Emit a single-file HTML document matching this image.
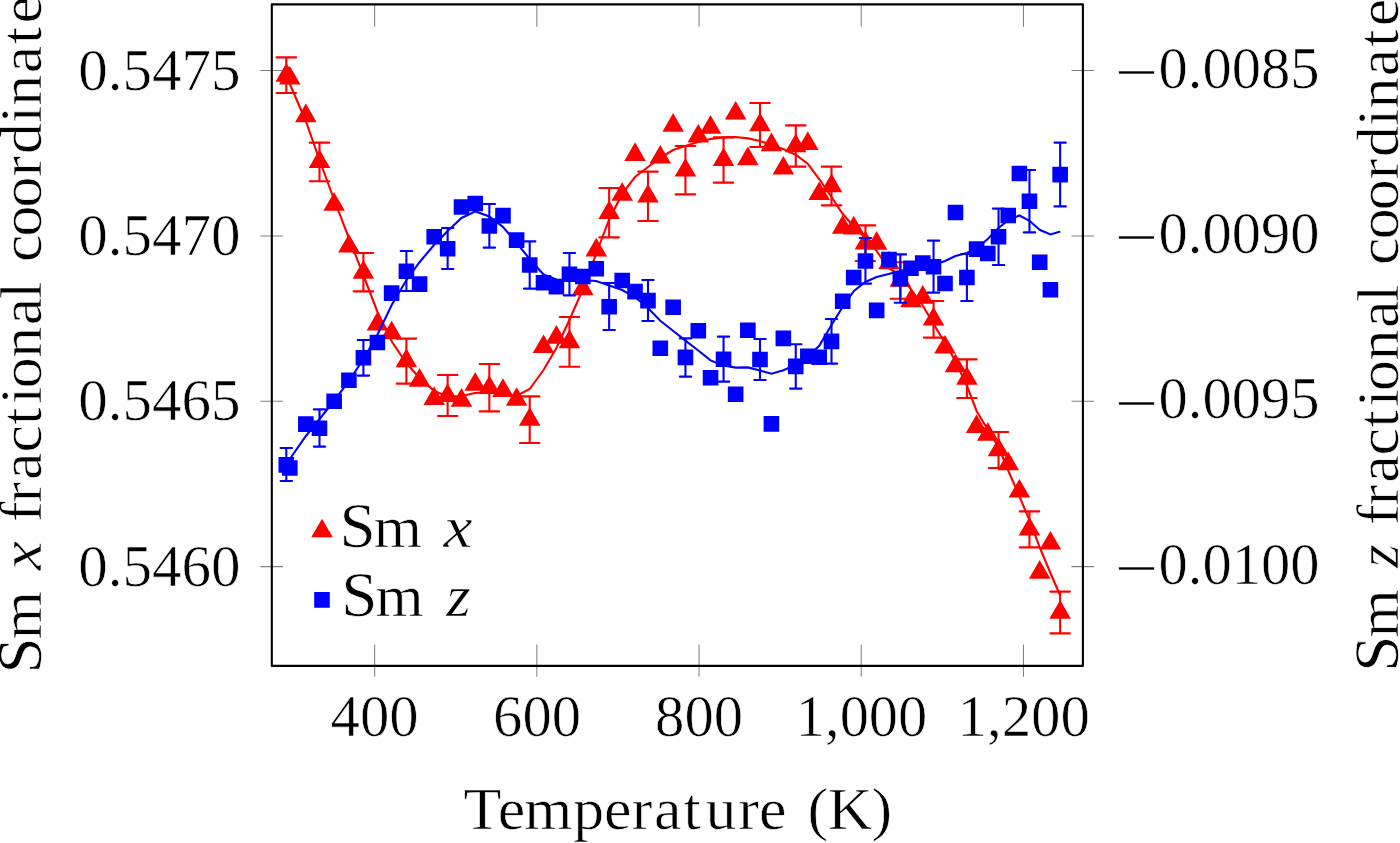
<!DOCTYPE html>
<html lang="en"><head><meta charset="utf-8"><title>Sm fractional coordinates vs temperature</title>
<style>
html,body{margin:0;padding:0;background:#fff;}
body{width:1400px;height:843px;overflow:hidden;}
svg{display:block;}
text{font-family:"Liberation Serif",serif;fill:#000;stroke:#fff;stroke-width:0.6px;}
.it{font-style:italic;}
</style></head><body>
<svg width="1400" height="843" viewBox="0 0 1400 843">
<rect width="1400" height="843" fill="#fff"/>
<path d="M374.64 4.4V26.8M374.64 644.5V676.8M536.84 4.4V26.8M536.84 644.5V676.8M699.05 4.4V26.8M699.05 644.5V676.8M861.25 4.4V26.8M861.25 644.5V676.8M1023.45 4.4V26.8M1023.45 644.5V676.8M260.4 70.57H283M1071.5 70.57H1094M260.4 235.92H283M1071.5 235.92H1094M260.4 401.28H283M1071.5 401.28H1094M260.4 566.63H283M1071.5 566.63H1094" fill="none" stroke="#808080" stroke-width="1.05"/>
<g stroke="#f00" fill="none">
<path d="M286.4 76L305.8 121L319.5 160L334.2 200L348.9 238L363.3 275L377.5 312L391.5 341L406.3 363L419.5 378L434.3 391L447.6 396.5L461.5 396L475 393L489.4 392L503 395L516.5 396L529.7 389L543.5 370L556.4 348L569.4 320L583 289L596.4 253L609 220L622 194L635 177L648 167L660 158L673 150L685.4 146L698 142L710.6 139L723.6 137.4L735.6 137L748 138.4L760 141L771.2 145L783.2 149L796 155L808 164L819.2 179L831.5 197L842.8 214L853.4 226L865.4 238L876.6 251L888.4 268L900 275L910 288L923 306L933.6 324L945 343L955.4 361L967 386L976.6 411L988 430L998.6 447L1008 470L1019.2 496L1029.4 520L1040 548L1050 572L1060 595" stroke-width="2.1" stroke-linejoin="miter" stroke-linecap="round"/>
<path d="M286.3 57.4V93M276.55 57.4h19.5M276.55 93h19.5M319.5 142.6V181.2M309.75 142.6h19.5M309.75 181.2h19.5M363.4 253V291.4M353.65 253h19.5M353.65 291.4h19.5M406.4 338.6V383.6M396.65 338.6h19.5M396.65 383.6h19.5M447.65 375V416M437.9 375h19.5M437.9 416h19.5M489.35 364V411.4M479.6 364h19.5M479.6 411.4h19.5M529.7 396.4V443M519.95 396.4h19.5M519.95 443h19.5M569.45 317V366.8M559.7 317h19.5M559.7 366.8h19.5M609.15 188V237.4M599.4 188h19.5M599.4 237.4h19.5M648 171.6V221M638.25 171.6h19.5M638.25 221h19.5M685.45 146V194.4M675.7 146h19.5M675.7 194.4h19.5M723.55 137.4V182.6M713.8 137.4h19.5M713.8 182.6h19.5M760 103V147M750.25 103h19.5M750.25 147h19.5M795.75 125.4V166.6M786 125.4h19.5M786 166.6h19.5M831.5 166.6V205.4M821.75 166.6h19.5M821.75 205.4h19.5M865.45 225.4V261M855.7 225.4h19.5M855.7 261h19.5M900.35 262.2V298.8M890.6 262.2h19.5M890.6 298.8h19.5M933.55 301V337.6M923.8 301h19.5M923.8 337.6h19.5M966.9 359.4V398M957.15 359.4h19.5M957.15 398h19.5M998.55 432V468M988.8 432h19.5M988.8 468h19.5M1029.45 511.4V547.4M1019.7 511.4h19.5M1019.7 547.4h19.5M1060.15 591.6V633.4M1050.4 591.6h19.5M1050.4 633.4h19.5" stroke-width="2.1" stroke-linecap="round"/>
<path d="M286.3 65.1L295.26 80.62L277.34 80.62ZM289.8 68L298.76 83.53L280.84 83.53ZM305.85 105.6L314.81 121.12L296.89 121.12ZM319.5 151.4L328.46 166.93L310.54 166.93ZM334.15 194.2L343.11 209.73L325.19 209.73ZM348.9 236L357.86 251.53L339.94 251.53ZM363.4 262.1L372.36 277.62L354.44 277.62ZM377.4 313.9L386.36 329.43L368.44 329.43ZM391.6 322.8L400.56 338.32L382.64 338.32ZM406.4 350.6L415.36 366.12L397.44 366.12ZM419.6 370.2L428.56 385.72L410.64 385.72ZM434.2 388.4L443.16 403.93L425.24 403.93ZM447.65 385.4L456.61 400.93L438.69 400.93ZM461.5 390.2L470.46 405.72L452.54 405.72ZM475.25 374.2L484.21 389.72L466.29 389.72ZM489.35 377.5L498.31 393.02L480.39 393.02ZM503 380.4L511.96 395.93L494.04 395.93ZM516.6 389.3L525.56 404.82L507.64 404.82ZM529.7 409.3L538.66 424.82L520.74 424.82ZM543.5 336.5L552.46 352.02L534.54 352.02ZM556.4 327.1L565.36 342.62L547.44 342.62ZM569.45 331.6L578.41 347.12L560.49 347.12ZM582.8 278.6L591.76 294.12L573.84 294.12ZM596.25 239.8L605.21 255.33L587.29 255.33ZM609.15 202.3L618.11 217.83L600.19 217.83ZM622.2 184.2L631.16 199.73L613.24 199.73ZM635.05 144.3L644.01 159.83L626.09 159.83ZM648 186L656.96 201.53L639.04 201.53ZM660.3 147L669.26 162.53L651.34 162.53ZM673.15 115.2L682.11 130.73L664.19 130.73ZM685.45 160L694.41 175.53L676.49 175.53ZM698.3 126L707.26 141.53L689.34 141.53ZM710.55 117.2L719.51 132.73L701.59 132.73ZM723.55 149.5L732.51 165.03L714.59 165.03ZM735.65 103L744.61 118.53L726.69 118.53ZM747.85 148.6L756.81 164.13L738.89 164.13ZM760 114.7L768.96 130.23L751.04 130.23ZM771.4 134.6L780.36 150.13L762.44 150.13ZM783.35 158L792.31 173.53L774.39 173.53ZM795.75 135.7L804.71 151.23L786.79 151.23ZM807.85 133.4L816.81 148.93L798.89 148.93ZM819.2 183.5L828.16 199.03L810.24 199.03ZM831.5 175.6L840.46 191.13L822.54 191.13ZM842.7 217.2L851.66 232.73L833.74 232.73ZM853.7 217.8L862.66 233.33L844.74 233.33ZM865.45 232.8L874.41 248.33L856.49 248.33ZM876.65 233.2L885.61 248.73L867.69 248.73ZM888.95 252.8L897.91 268.32L879.99 268.32ZM900.35 270.1L909.31 285.62L891.39 285.62ZM910.95 290.6L919.91 306.12L901.99 306.12ZM922.75 287.1L931.71 302.62L913.79 302.62ZM933.55 308.9L942.51 324.43L924.59 324.43ZM945 337L953.96 352.52L936.04 352.52ZM955.5 355.6L964.46 371.12L946.54 371.12ZM966.9 368.3L975.86 383.82L957.94 383.82ZM976.6 416.4L985.56 431.93L967.64 431.93ZM987.8 424.2L996.76 439.72L978.84 439.72ZM998.55 439.7L1007.51 455.22L989.59 455.22ZM1008.25 453.6L1017.21 469.12L999.29 469.12ZM1019.4 481L1028.36 496.52L1010.44 496.52ZM1029.45 518.9L1038.41 534.42L1020.49 534.42ZM1039.7 562.2L1048.66 577.72L1030.74 577.72ZM1050.4 533L1059.36 548.52L1041.44 548.52ZM1060.15 602.1L1069.11 617.62L1051.19 617.62Z" fill="#f00" stroke-width="2.1"/>
</g>
<g stroke="#00f" fill="none">
<path d="M286.4 464L305.9 436L319.5 419L334 401L348.9 381L363.5 359L377.3 335L391.7 305L406.5 280L419.7 262L434 245L447.7 231L461.5 218L475.5 211.4L489.3 216.5L503 227L516.7 243L529.7 259L543.5 274.5L556.5 279.5L569.5 280L582.5 280L596 281L609.3 285.4L622.1 290L634.9 297L648 308L660.3 320.8L673 330.8L685.5 340.6L698.3 350.5L710.5 360.4L723.5 365.5L735.6 367.6L747.7 367.4L760 370.6L771.5 373.7L783.4 370.2L795.5 365L807.7 356L819.1 346L831.5 325L842.6 307L853.9 291L865.4 282L876.6 277L888.6 274L900 271L910.7 268.5L922.7 266.5L933.5 265L945 261L955.5 256L966.8 253L976.5 248.5L987.7 239L998.5 228L1008.5 220L1019.5 215.5L1029.5 220.75L1040 230L1050.5 234.5L1059.5 231.75" stroke-width="2.1" stroke-linejoin="miter" stroke-linecap="round"/>
<path d="M286.3 448V481M280.6 448h11.4M280.6 481h11.4M319.5 409.4V446.6M313.8 409.4h11.4M313.8 446.6h11.4M363.4 340V375.6M357.7 340h11.4M357.7 375.6h11.4M406.4 251V291M400.7 251h11.4M400.7 291h11.4M447.65 228V269M441.95 228h11.4M441.95 269h11.4M489.35 204V247.6M483.65 204h11.4M483.65 247.6h11.4M529.7 241.4V288.6M524 241.4h11.4M524 288.6h11.4M569.45 253V295.4M563.75 253h11.4M563.75 295.4h11.4M609.15 283V330M603.45 283h11.4M603.45 330h11.4M648 280V321M642.3 280h11.4M642.3 321h11.4M685.45 338.4V376.6M679.75 338.4h11.4M679.75 376.6h11.4M723.55 336.6V381.6M717.85 336.6h11.4M717.85 381.6h11.4M760 339V380M754.3 339h11.4M754.3 380h11.4M795.75 344.2V388.6M790.05 344.2h11.4M790.05 388.6h11.4M831.5 319V363.6M825.8 319h11.4M825.8 363.6h11.4M865.45 238V283.6M859.75 238h11.4M859.75 283.6h11.4M900.35 254.4V302.8M894.65 254.4h11.4M894.65 302.8h11.4M933.55 240.6V292.6M927.85 240.6h11.4M927.85 292.6h11.4M966.9 254V301M961.2 254h11.4M961.2 301h11.4M998.55 208.6V265M992.85 208.6h11.4M992.85 265h11.4M1029.45 170V232.4M1023.75 170h11.4M1023.75 232.4h11.4M1060.15 142.6V206.4M1054.45 142.6h11.4M1054.45 206.4h11.4" stroke-width="2.1" stroke-linecap="round"/>
<path d="M279.55 458.15h13.5v13.5h-13.5ZM283.05 461.25h13.5v13.5h-13.5ZM299.1 417.35h13.5v13.5h-13.5ZM312.75 421.45h13.5v13.5h-13.5ZM327.4 394.55h13.5v13.5h-13.5ZM342.15 373.55h13.5v13.5h-13.5ZM356.65 350.95h13.5v13.5h-13.5ZM370.65 335.75h13.5v13.5h-13.5ZM384.85 286.35h13.5v13.5h-13.5ZM399.65 264.45h13.5v13.5h-13.5ZM412.85 277.35h13.5v13.5h-13.5ZM427.45 230.05h13.5v13.5h-13.5ZM440.9 241.95h13.5v13.5h-13.5ZM454.75 200.25h13.5v13.5h-13.5ZM468.5 196.75h13.5v13.5h-13.5ZM482.6 219.25h13.5v13.5h-13.5ZM496.25 208.85h13.5v13.5h-13.5ZM509.85 233.35h13.5v13.5h-13.5ZM522.95 258.25h13.5v13.5h-13.5ZM536.75 276.05h13.5v13.5h-13.5ZM549.65 279.95h13.5v13.5h-13.5ZM562.7 267.45h13.5v13.5h-13.5ZM576.05 269.75h13.5v13.5h-13.5ZM589.5 261.95h13.5v13.5h-13.5ZM602.4 299.95h13.5v13.5h-13.5ZM615.45 273.75h13.5v13.5h-13.5ZM628.3 284.85h13.5v13.5h-13.5ZM641.25 293.85h13.5v13.5h-13.5ZM653.55 341.55h13.5v13.5h-13.5ZM666.4 300.55h13.5v13.5h-13.5ZM678.7 350.65h13.5v13.5h-13.5ZM691.55 324.05h13.5v13.5h-13.5ZM703.8 370.95h13.5v13.5h-13.5ZM716.8 352.45h13.5v13.5h-13.5ZM728.9 387.45h13.5v13.5h-13.5ZM741.1 323.55h13.5v13.5h-13.5ZM753.25 352.75h13.5v13.5h-13.5ZM764.65 417.15h13.5v13.5h-13.5ZM776.6 331.65h13.5v13.5h-13.5ZM789 359.65h13.5v13.5h-13.5ZM801.1 349.45h13.5v13.5h-13.5ZM812.45 350.55h13.5v13.5h-13.5ZM824.75 334.65h13.5v13.5h-13.5ZM835.95 294.45h13.5v13.5h-13.5ZM846.95 270.75h13.5v13.5h-13.5ZM858.7 254.25h13.5v13.5h-13.5ZM869.9 303.65h13.5v13.5h-13.5ZM882.2 252.75h13.5v13.5h-13.5ZM893.6 271.85h13.5v13.5h-13.5ZM904.2 261.45h13.5v13.5h-13.5ZM916 256.35h13.5v13.5h-13.5ZM926.8 259.95h13.5v13.5h-13.5ZM938.25 276.75h13.5v13.5h-13.5ZM948.75 205.75h13.5v13.5h-13.5ZM960.15 270.75h13.5v13.5h-13.5ZM969.85 242.35h13.5v13.5h-13.5ZM981.05 246.75h13.5v13.5h-13.5ZM991.8 229.95h13.5v13.5h-13.5ZM1001.5 208.75h13.5v13.5h-13.5ZM1012.65 166.75h13.5v13.5h-13.5ZM1022.7 194.55h13.5v13.5h-13.5ZM1032.95 255.45h13.5v13.5h-13.5ZM1043.65 282.95h13.5v13.5h-13.5ZM1053.4 167.85h13.5v13.5h-13.5Z" fill="#00f" stroke-width="2.1"/>
</g>
<rect x="271.8" y="4.4" width="811.1" height="661.5" fill="none" stroke="#000" stroke-width="2.1" stroke-linejoin="round"/>
<path d="M322 520.75L330.96 536.27L313.04 536.27Z" fill="#f00" stroke="#f00" stroke-width="2.1"/>
<path d="M315.25 593.15h13.5v13.5h-13.5Z" fill="#00f" stroke="#00f" stroke-width="2.1"/>
<text transform="translate(341.5 546.6) scale(1.04 1)" x="-1.87 31.09" y="0" font-size="59.5"><tspan font-size="62.5">S</tspan>m</text>
<text x="443.5" y="546.6" font-size="59.5" textLength="29" lengthAdjust="spacingAndGlyphs" class="it">x</text>
<text transform="translate(343.2 615.5) scale(1.04 1)" x="-1.87 31.09" y="0" font-size="59.5"><tspan font-size="62.5">S</tspan>m</text>
<text x="446.2" y="615.5" font-size="59.5" textLength="24.5" lengthAdjust="spacingAndGlyphs" class="it">z</text>
<text x="240.6" y="89.57" font-size="58.5" text-anchor="end" textLength="162.4" lengthAdjust="spacingAndGlyphs">0.5475</text>
<text x="240.6" y="254.92" font-size="58.5" text-anchor="end" textLength="162.4" lengthAdjust="spacingAndGlyphs">0.5470</text>
<text x="240.6" y="420.28" font-size="58.5" text-anchor="end" textLength="162.4" lengthAdjust="spacingAndGlyphs">0.5465</text>
<text x="240.6" y="585.63" font-size="58.5" text-anchor="end" textLength="162.4" lengthAdjust="spacingAndGlyphs">0.5460</text>
<text x="1114.4" y="92.87" font-size="58.5"><tspan font-size="62" textLength="43.9" lengthAdjust="spacingAndGlyphs">−</tspan><tspan x="1158.5" y="87.57" textLength="161" lengthAdjust="spacingAndGlyphs">0.0085</tspan></text>
<text x="1114.4" y="258.22" font-size="58.5"><tspan font-size="62" textLength="43.9" lengthAdjust="spacingAndGlyphs">−</tspan><tspan x="1158.5" y="252.92" textLength="161" lengthAdjust="spacingAndGlyphs">0.0090</tspan></text>
<text x="1114.4" y="423.58" font-size="58.5"><tspan font-size="62" textLength="43.9" lengthAdjust="spacingAndGlyphs">−</tspan><tspan x="1158.5" y="418.28" textLength="161" lengthAdjust="spacingAndGlyphs">0.0095</tspan></text>
<text x="1114.4" y="588.93" font-size="58.5"><tspan font-size="62" textLength="43.9" lengthAdjust="spacingAndGlyphs">−</tspan><tspan x="1158.5" y="583.63" textLength="161" lengthAdjust="spacingAndGlyphs">0.0100</tspan></text>
<text x="374.64" y="735.8" font-size="58.5" text-anchor="middle" textLength="88" lengthAdjust="spacingAndGlyphs">400</text>
<text x="537.14" y="735.8" font-size="58.5" text-anchor="middle" textLength="88" lengthAdjust="spacingAndGlyphs">600</text>
<text x="699.05" y="735.8" font-size="58.5" text-anchor="middle" textLength="88" lengthAdjust="spacingAndGlyphs">800</text>
<text x="861.55" y="735.8" font-size="58.5" text-anchor="middle" textLength="131.5" lengthAdjust="spacingAndGlyphs">1,000</text>
<text x="1023.75" y="735.8" font-size="58.5" text-anchor="middle" textLength="132.5" lengthAdjust="spacingAndGlyphs">1,200</text>
<text transform="translate(461.5 828.6) scale(1.04 1)" x="1.96 34.79 60.46 107.47 137.02 163.63 185.2 213.49 234.68 266.08 286.09 313.53 332.63 352.16 394.35" y="0" font-size="59.5">Temperature (K)</text>
<text transform="translate(40.6 671.5) rotate(-90) scale(1.04 1)" x="-1.87 31.09" y="0" font-size="59.5"><tspan font-size="62.5">S</tspan>m</text>
<text transform="translate(40.6 570.2) rotate(-90)" font-size="59.5" textLength="29" lengthAdjust="spacingAndGlyphs" class="it">x</text>
<text transform="translate(40.6 521.2) rotate(-90) scale(1.04 1)" x="-0.89 18.09 39.66 65.98 92.71 112.75 127.84 157.28 188.4 213.59" y="0" font-size="59.5">fractional</text>
<text transform="translate(40.6 261.2) rotate(-90) scale(1.04 1)" x="-0.83 23.83 51.71 81.55 103.02 132.88 149.53 180.64 208.93 228.66" y="0" font-size="59.5">coordinate</text>
<text transform="translate(1398.2 669.7) rotate(-90) scale(1.04 1)" x="-1.87 31.09" y="0" font-size="59.5"><tspan font-size="62.5">S</tspan>m</text>
<text transform="translate(1398.2 567.8) rotate(-90)" font-size="59.5" textLength="23.5" lengthAdjust="spacingAndGlyphs" class="it">z</text>
<text transform="translate(1398.2 524) rotate(-90) scale(1.04 1)" x="-0.89 18.09 39.66 65.98 92.71 112.75 127.84 157.28 188.4 213.59" y="0" font-size="59.5">fractional</text>
<text transform="translate(1398.2 264.1) rotate(-90) scale(1.04 1)" x="-0.83 23.83 51.71 81.55 103.02 132.88 149.53 180.64 208.93 228.66" y="0" font-size="59.5">coordinate</text>
</svg></body></html>
